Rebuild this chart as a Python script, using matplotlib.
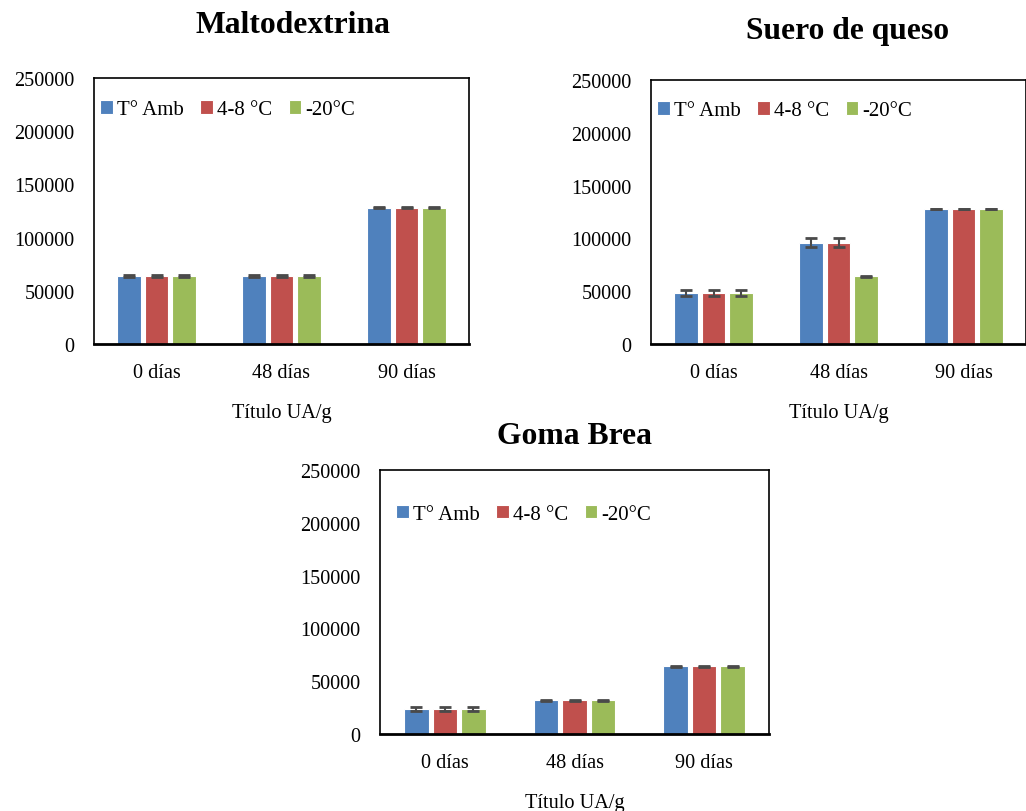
import matplotlib
matplotlib.use("Agg")
import matplotlib.pyplot as plt
import numpy as np

categories = ["0 días", "48 días", "90 días"]
series_names = ["T° Amb", "4-8 °C", "-20°C"]
colors = ["#4F81BD", "#C0504D", "#9BBB59"]

# Maltodextrina
malto_vals = [[64000, 64000, 128000], [64000, 64000, 128000], [64000, 64000, 128000]]
malto_err = [[600, 600, 600], [600, 600, 600], [600, 600, 600]]
# Suero de queso
suero_vals = [[48000, 96000, 128000], [48000, 96000, 128000], [48000, 64000, 128000]]
suero_err = [[3000, 4500, 300], [3000, 4500, 300], [3000, 300, 300]]
# Goma Brea
goma_vals = [[24000, 32000, 64000], [24000, 32000, 64000], [24000, 32000, 64000]]
goma_err = [[1800, 300, 300], [1800, 300, 300], [1800, 300, 300]]

titles = ["Maltodextrina", "Suero de queso", "Goma Brea"]
yticks = [0, 50000, 100000, 150000, 200000, 250000]
xlabel = "Título UA/g"

plt.rcParams['font.family'] = ['Liberation Serif', 'DejaVu Serif']

fig = plt.figure(figsize=(10.26, 8.12), dpi=100)
positions = [
    [94/1026, 1-345/812, 375/1026, 266/812],
    [651/1026, 1-345/812, 375/1026, 264/812],
    [380/1026, 1-735/812, 389/1026, 264/812],
]
title_x = [0.5 + 11/375, 0.5 + 9/375, 0.5]
title_pad = [33, 30, 19.5]
legend_anchor = [(6/375, 0.916), (6/375, 0.919), (16/389, 0.868)]
datasets = [(malto_vals, malto_err), (suero_vals, suero_err), (goma_vals, goma_err)]

x = np.arange(len(categories))
step = 0.22
width = 0.19
for k, (pos, (vals, errs), title) in enumerate(zip(positions, datasets, titles)):
    ax = fig.add_axes(pos)
    for i, (name, c) in enumerate(zip(series_names, colors)):
        ax.bar(x + (i - 1) * step, vals[i], width=width, color=c, label=name,
               edgecolor='white', linewidth=0.8,
               yerr=errs[i], capsize=4.5,
               error_kw=dict(ecolor='#4a4a4a', elinewidth=1.5, capthick=2))
    ax.set_xlim(-0.5, 2.5)
    ax.set_ylim(0, 250000)
    ax.set_yticks(yticks)
    ax.set_yticklabels([str(t) for t in yticks])
    ax.set_xticks(x)
    ax.set_xticklabels(categories)
    ax.tick_params(axis='both', length=0, labelsize=14.6)
    ax.tick_params(axis='y', pad=14)
    ax.tick_params(axis='x', pad=14)
    for s in ax.spines.values():
        s.set_linewidth(1.2)
        s.set_color('black')
    ax.spines['bottom'].set_linewidth(2)
    ax.set_xlabel(xlabel, fontsize=14.6, labelpad=15)
    ax.set_title(title, fontsize=22.8, fontweight='bold', pad=title_pad[k], x=title_x[k])
    ax.legend(loc='upper left', ncol=3, frameon=False, fontsize=15,
              handlelength=0.6, handleheight=0.6, handletextpad=0.2,
              columnspacing=0.8, borderaxespad=0, borderpad=0,
              bbox_to_anchor=legend_anchor[k])

fig.savefig("out.png", dpi=100)
